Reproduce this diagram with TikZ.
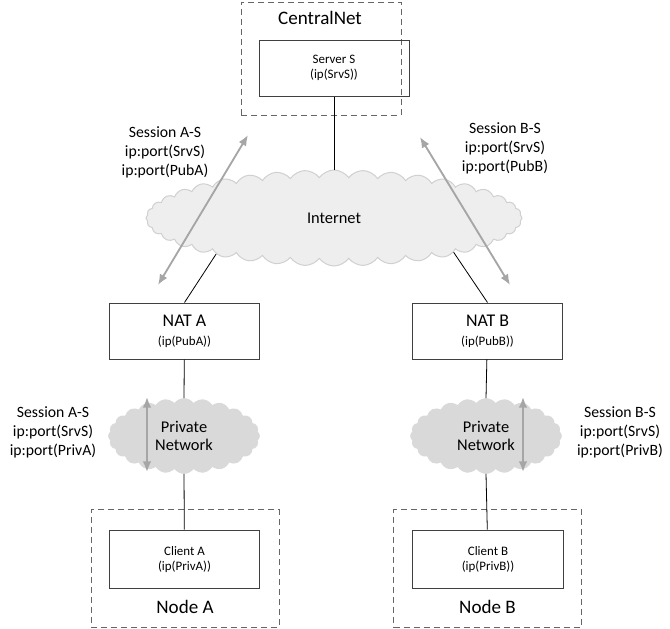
\documentclass[tikz,border=0pt]{standalone}
\usepackage{fontspec}
\setmainfont{Carlito}
\usetikzlibrary{shapes.symbols,arrows.meta}

\definecolor{boxline}{HTML}{404040}
\definecolor{sessgray}{HTML}{A6A6A6}
\definecolor{inetfill}{HTML}{EEEEEE}
\definecolor{inetline}{HTML}{D0D0D0}
\definecolor{privfill}{HTML}{D9D9D9}

\tikzset{
	host/.style={shape=rectangle,draw=boxline,line width=0.75pt,minimum width=113pt,minimum height=42pt,align=center,font=\fontsize{9.7}{11.5}\selectfont},
	group/.style={shape=rectangle,draw=boxline!80,dashed,dash pattern=on 4.5pt off 3pt,line width=0.75pt},
	nat/.style={host,font=\fontsize{13.4}{15}\selectfont},
	netcloud/.style={shape=cloud,cloud ignores aspect,cloud puff arc=110,draw=inetline,fill=inetfill,line width=0.75pt,align=center,font=\fontsize{12.3}{13.5}\selectfont},
	session/.style={align=center,inner sep=0pt,font=\fontsize{11.8}{14.25}\selectfont},
	title/.style={inner sep=0pt,font=\fontsize{14.3}{16}\selectfont},
	link/.style={draw=black,line width=0.6pt},
	sess/.style={draw=sessgray,line width=1.4pt,{Latex[length=8pt,width=6.5pt]}-{Latex[length=8pt,width=6.5pt]}}
}

\begin{document}
\begin{tikzpicture}[x=0.75pt,y=-0.75pt]
	\useasboundingbox (0,0) rectangle (670,628);

	\node[group,minimum width=120pt,minimum height=84.75pt] (central) at (321,58.5) {};
	\node[title] (centraltitle) at (320,18) {CentralNet};
	\node[host,minimum width=112.5pt] (srv) at (334,68) {Server S\\(ip(SrvS))};

	\node[netcloud,cloud puffs=40,minimum width=282pt,minimum height=72pt] (inet) at (334,218) {Internet};

	\node[nat] (nata) at (184.5,331) {NAT A\\[-1pt]{\fontsize{9.7}{11}\selectfont (ip(PubA))}};
	\node[nat] (natb) at (487.5,331) {NAT B\\[-1pt]{\fontsize{9.7}{11}\selectfont (ip(PubB))}};

	\node[netcloud,draw=privfill,fill=privfill,cloud puffs=24,minimum width=113pt,minimum height=56pt] (pna) at (184,436) {Private\\Network};
	\node[netcloud,draw=privfill,fill=privfill,cloud puffs=24,minimum width=113pt,minimum height=56pt] (pnb) at (486,436) {Private\\Network};

	\node[group,minimum width=141pt,minimum height=88pt] (nodea) at (185,568.5) {};
	\node[group,minimum width=141pt,minimum height=88pt] (nodeb) at (487.5,568.5) {};
	\node[host,minimum height=44pt] (clienta) at (184.5,559.5) {Client A\\(ip(PrivA))};
	\node[host,minimum height=44pt] (clientb) at (488,559.5) {Client B\\(ip(PrivB))};
	\node[title] (nodealabel) at (185,607) {Node A};
	\node[title] (nodeblabel) at (487.5,607) {Node B};

	\node[session] (sessas) at (165,152) {Session A-S\\ip:port(SrvS)\\ip:port(PubA)};
	\node[session] (sessbs) at (505,148) {Session B-S\\ip:port(SrvS)\\ip:port(PubB)};
	\node[session] (privas) at (53,432) {Session A-S\\ip:port(SrvS)\\ip:port(PrivA)};
	\node[session] (privbs) at (620,432) {Session B-S\\ip:port(SrvS)\\ip:port(PrivB)};

	\coordinate (sa1) at (158,285);
	\coordinate (sa2) at (248,135);
	\coordinate (sb1) at (420,137);
	\coordinate (sb2) at (510,285);
	\coordinate (pa1) at (147,397);
	\coordinate (pa2) at (147,472);
	\coordinate (pb1) at (523,397);
	\coordinate (pb2) at (523,472);

	\draw[link] (srv) -- (inet.north);
	\draw[link] (inet.197) -- (nata.north);
	\draw[link] (inet.344) -- (natb.north);
	\draw[link] (nata) -- (pna.north);
	\draw[link] (natb) -- (pnb.north);
	\draw[link] (pna.south) -- (clienta);
	\draw[link] (pnb.south) -- (clientb);

	\draw[sess] (sa1) -- (sa2);
	\draw[sess] (sb1) -- (sb2);
	\draw[sess] (pa1) -- (pa2);
	\draw[sess] (pb1) -- (pb2);

\end{tikzpicture}
\end{document}
